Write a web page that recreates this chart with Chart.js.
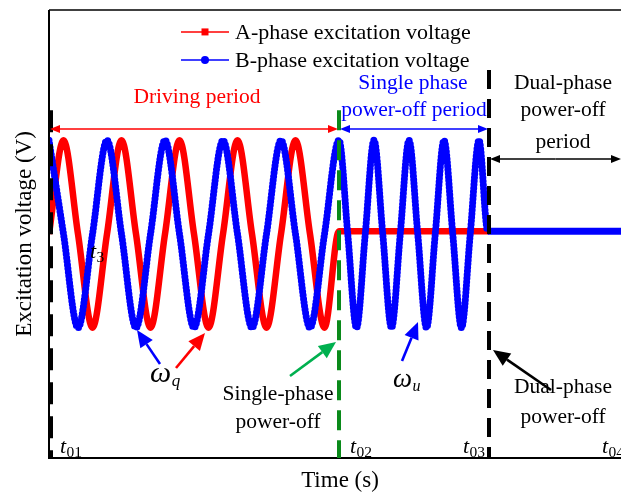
<!DOCTYPE html>
<html>
<head>
<meta charset="utf-8">
<script src="https://cdn.jsdelivr.net/npm/chart.js@4.4.1/dist/chart.umd.min.js"></script>
<style>
html,body{margin:0;padding:0;background:#fff;}
canvas{display:block;}
</style>
</head>
<body>
<canvas id="c" width="621" height="493"></canvas>
<script>
// ---- data (time in arbitrary units, voltage normalised to peak = 1) ----
const driveTime = [0,14.5,29,43.5,58,72.5,87,101.5,116,130.5,145,159.5,174,188.5,203,217.5,232,246.5,261,275.5,290];
const bDrive    = [1,0,-1,0,1,0,-1,0,1,0,-1,0,1,0,-1,0,1,0,-1,0,1];
const aDrive    = [0,1,0,-1,0,1,0,-1,0,1,0,-1,0,1,0,-1,0,1,0,-1,0.03];
const singleTime = [298.75,307.5,316.25,325,333.75,342.5,351.25,360,368.75,377.5,386.25,395,403.75,412.5,421.25,430,438.75];
const bSingle    = [0,-1,0,1,0,-1,0,1,0,-1,0,1,0,-1,0,1,0.03];
const aOffTime = [440];
const aOff     = [0.03];
const bOffTime = [572];
const bOff     = [0.03];
const eventTimes  = [0, 290, 440, 553];
const eventLabels = ['01','02','03','04'];
const seriesNames = ['A-phase excitation voltage','B-phase excitation voltage'];

const toPts = (ts, vs) => ts.map((t,i)=>({x:t, y:vs[i]}));
const aData = toPts(driveTime, aDrive).concat(toPts(aOffTime, aOff));
const bData = toPts(driveTime, bDrive).concat(toPts(singleTime, bSingle), toPts(bOffTime, bOff));
const OFF_T = 438.75;

const SERIF = '"Liberation Serif", "Times New Roman", serif';
const FS = 21.5;

function arrow(ctx, x1, y1, x2, y2, color, lw, hl, hw){
  const ang = Math.atan2(y2-y1, x2-x1);
  const bx = x2 - hl*Math.cos(ang), by = y2 - hl*Math.sin(ang);
  ctx.strokeStyle = color; ctx.fillStyle = color; ctx.lineWidth = lw; ctx.setLineDash([]);
  ctx.beginPath(); ctx.moveTo(x1,y1); ctx.lineTo(bx,by); ctx.stroke();
  ctx.beginPath();
  ctx.moveTo(x2,y2);
  ctx.lineTo(bx + hw/2*Math.sin(ang), by - hw/2*Math.cos(ang));
  ctx.lineTo(bx - hw/2*Math.sin(ang), by + hw/2*Math.cos(ang));
  ctx.closePath(); ctx.fill();
}
function dbl(ctx, x1, y, x2, color){
  arrow(ctx, (x1+x2)/2, y, x1, y, color, 1.6, 10, 8);
  arrow(ctx, (x1+x2)/2, y, x2, y, color, 1.6, 10, 8);
}
function sub(ctx, x, y, main, s, size, subSize, mainItalic, subItalic, color){
  ctx.fillStyle = color || '#000';
  ctx.textAlign = 'left'; ctx.textBaseline = 'alphabetic';
  ctx.font = (mainItalic?'italic ':'') + size + 'px ' + SERIF;
  ctx.fillText(main, x, y);
  const w = ctx.measureText(main).width;
  ctx.font = (subItalic?'italic ':'') + subSize + 'px ' + SERIF;
  ctx.fillText(s, x + w + 0.5, y + 4);
}
function txt(ctx, s, x, y, color, size, align){
  ctx.fillStyle = color; ctx.font = size + 'px ' + SERIF;
  ctx.textAlign = align || 'center'; ctx.textBaseline = 'middle';
  ctx.fillText(s, x, y);
}

const annot = {
  id: 'annot',
  afterDatasetsDraw(chart){
    const {ctx, chartArea:a, scales:{x, y}} = chart;
    const X = t => x.getPixelForValue(t), Y = v => y.getPixelForValue(v);
    ctx.save();
    // frame
    ctx.strokeStyle = '#000'; ctx.setLineDash([]);
    ctx.lineWidth = 1.5;
    ctx.beginPath(); ctx.moveTo(a.left, a.top); ctx.lineTo(a.right, a.top); ctx.stroke();
    ctx.lineWidth = 2;
    ctx.beginPath(); ctx.moveTo(a.left, a.top); ctx.lineTo(a.left, a.bottom); ctx.lineTo(a.right, a.bottom); ctx.stroke();

    // event dashed lines
    ctx.lineWidth = 4; ctx.lineCap = 'butt';
    ctx.strokeStyle = '#000'; ctx.setLineDash([22,12]);
    ctx.beginPath(); ctx.moveTo(X(eventTimes[0])+2, Y(1.32)); ctx.lineTo(X(eventTimes[0])+2, a.bottom); ctx.stroke();
    ctx.strokeStyle = '#0a8a1a'; ctx.setLineDash([20,10]);
    ctx.beginPath(); ctx.moveTo(X(eventTimes[1]), Y(1.32)); ctx.lineTo(X(eventTimes[1]), a.bottom); ctx.stroke();
    ctx.strokeStyle = '#000'; ctx.setLineDash([19,10]);
    ctx.beginPath(); ctx.moveTo(X(eventTimes[2]), Y(1.75)); ctx.lineTo(X(eventTimes[2]), a.bottom); ctx.stroke();
    ctx.setLineDash([]);

    // period double arrows
    dbl(ctx, X(0)+1, Y(1.12), X(289), '#ff0000');
    dbl(ctx, X(291), Y(1.12), X(439), '#0000ff');
    dbl(ctx, X(441), Y(0.80), a.right, '#000');

    // legend
    const legY = [Y(2.156), Y(1.857)];
    const legCol = ['#ff0000', '#0000ff'];
    for (let i=0;i<2;i++){
      ctx.strokeStyle = legCol[i]; ctx.fillStyle = legCol[i]; ctx.lineWidth = 1.6;
      ctx.beginPath(); ctx.moveTo(X(132), legY[i]); ctx.lineTo(X(180), legY[i]); ctx.stroke();
      if (i===0) { ctx.fillRect(X(156)-3.5, legY[i]-3.5, 7, 7); }
      else { ctx.beginPath(); ctx.arc(X(156), legY[i], 4, 0, Math.PI*2); ctx.fill(); }
      txt(ctx, seriesNames[i], X(186), legY[i]+1, '#000', 22, 'left');
    }

    // period labels
    txt(ctx, 'Driving period', X(148), Y(1.462), '#ff0000', FS);
    txt(ctx, 'Single phase', X(364), Y(1.611), '#0000ff', FS);
    txt(ctx, 'power-off period', X(365), Y(1.323), '#0000ff', FS);
    txt(ctx, 'Dual-phase', X(514), Y(1.611), '#000', FS);
    txt(ctx, 'power-off', X(514), Y(1.323), '#000', FS);
    txt(ctx, 'period', X(514), Y(0.982), '#000', FS);

    // event labels
    txt(ctx, 'Single-phase', X(229), Y(-1.708), '#000', FS);
    txt(ctx, 'power-off', X(229), Y(-2.006), '#000', FS);
    txt(ctx, 'Dual-phase', X(514), Y(-1.633), '#000', FS);
    txt(ctx, 'power-off', X(514), Y(-1.953), '#000', FS);

    // annotation arrows
    arrow(ctx, X(111), Y(-1.387), X(88), Y(-1.025), '#0000ff', 2.6, 17, 15);
    arrow(ctx, X(127), Y(-1.430), X(156), Y(-1.057), '#ff0000', 2.6, 17, 15);
    arrow(ctx, X(241), Y(-1.515), X(287), Y(-1.153), '#00b04f', 2.6, 17, 15);
    arrow(ctx, X(353), Y(-1.355), X(369), Y(-0.939), '#0000ff', 2.6, 17, 15);
    arrow(ctx, X(502), Y(-1.665), X(444), Y(-1.238), '#000', 2.6, 17, 15);

    // omega labels
    sub(ctx, X(101), Y(-1.579), 'ω', 'q', 30, 17, true, true);
    sub(ctx, X(344), Y(-1.633), 'ω', 'u', 27, 16, true, true);

    // time labels
    const tx = [11, 301, 414, 553];
    for (let i=0;i<4;i++) sub(ctx, X(tx[i]), Y(-2.337), 't', eventLabels[i], 22, 15.5, true, false);
    sub(ctx, X(41), Y(-0.256), 't', '3', 22, 15.5, true, false);

    // axis titles
    txt(ctx, 'Time (s)', X(291), a.bottom + 23, '#000', 23);
    ctx.save();
    ctx.translate(a.left - 24, (a.top + a.bottom)/2);
    ctx.rotate(-Math.PI/2);
    txt(ctx, 'Excitation voltage (V)', 0, 0, '#000', 23);
    ctx.restore();
    ctx.restore();
  }
};

new Chart(document.getElementById('c'), {
  type: 'line',
  data: {
    datasets: [
      {
        label: seriesNames[1], data: bData, order: 0,
        borderColor: '#0000ff', borderWidth: 7, pointRadius: 0,
        cubicInterpolationMode: 'monotone', borderCapStyle: 'round', borderJoinStyle: 'round',
        segment: {
          borderDash: c => c.p0.parsed.x >= OFF_T ? [] : [0, 3.6],
          borderCapStyle: c => c.p0.parsed.x >= OFF_T ? 'butt' : 'round'
        }
      },
      {
        label: seriesNames[0], data: aData, order: 1,
        borderColor: '#ff0000', borderWidth: 6.5, pointRadius: 0,
        cubicInterpolationMode: 'monotone', borderJoinStyle: 'round'
      }
    ]
  },
  options: {
    responsive: false, animation: false, devicePixelRatio: 1,
    layout: { padding: { left: 49, top: 10, right: 0, bottom: 35 } },
    plugins: { legend: { display: false }, tooltip: { enabled: false } },
    scales: {
      x: { type: 'linear', min: 0, max: 572, display: false },
      y: { type: 'linear', min: -2.39, max: 2.39, display: false }
    }
  },
  plugins: [annot]
});
</script>
</body>
</html>
